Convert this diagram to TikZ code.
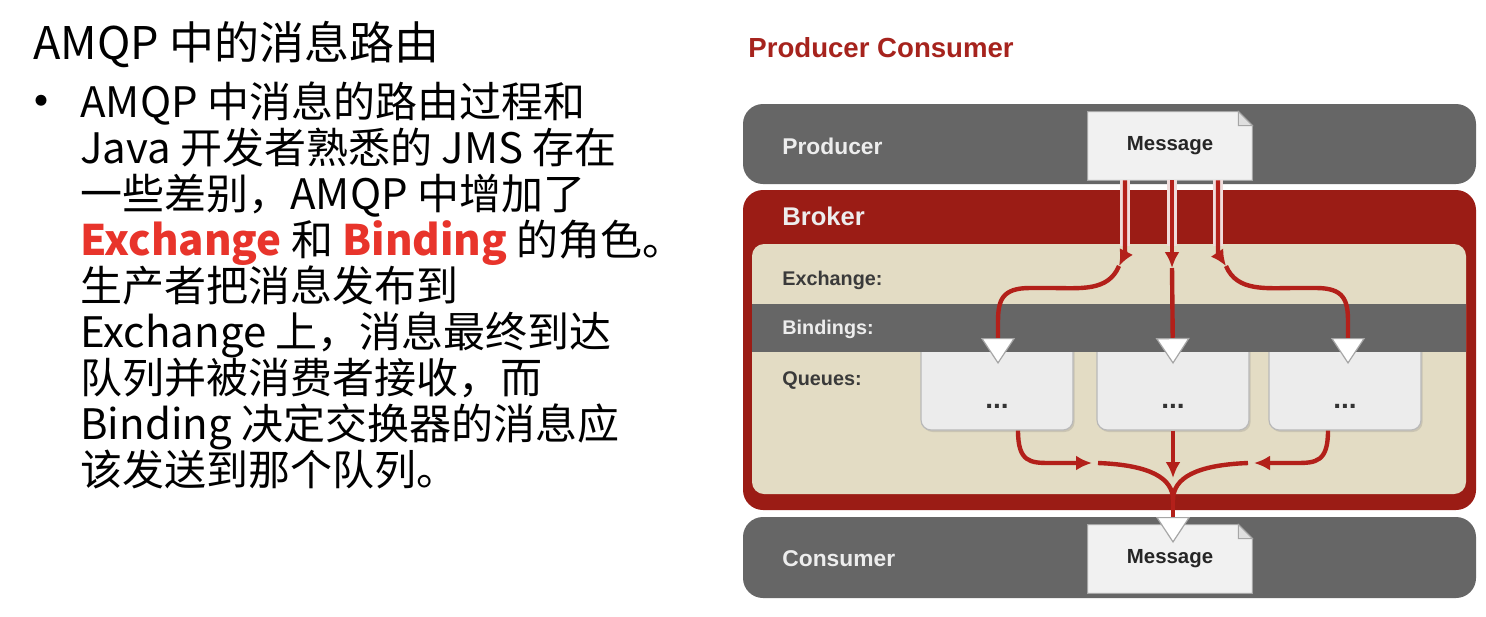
\documentclass[tikz,border=0pt]{standalone}
\usepackage{fontspec}
\setmainfont{Liberation Sans}
\newfontfamily\cjk{Noto Sans CJK SC}
\newfontfamily\diag{Liberation Sans}
\usetikzlibrary{positioning, calc, arrows.meta, shadows}

\definecolor{bandgray}{HTML}{666666}
\definecolor{brokerred}{HTML}{9B1C15}
\definecolor{beige}{HTML}{E3DCC4}
\definecolor{flowred}{HTML}{B3201A}
\definecolor{titlered}{HTML}{A6231D}
\definecolor{hotred}{HTML}{E8342B}
\definecolor{paper}{HTML}{F1F1F1}
\definecolor{labelwhite}{HTML}{EDEDED}
\definecolor{labeldark}{HTML}{3A3A3A}

\newcommand{\qdots}{\raisebox{-14pt}[0pt][0pt]{...}}

\begin{document}
\begin{tikzpicture}[
    x=0.5pt, y=-0.5pt,
    headline/.style={anchor=base west, inner sep=0pt, font=\cjk\fontsize{22.5}{24}\selectfont},
    bodyline/.style={anchor=base west, inner sep=0pt, font=\cjk\fontsize{21}{23}\selectfont},
    lightlabel/.style={anchor=base west, inner sep=0pt, text=labelwhite, font=\diag\bfseries\fontsize{11.4}{13}\selectfont},
    darklabel/.style={anchor=base west, inner sep=0pt, text=labeldark, font=\diag\bfseries\fontsize{9.9}{11}\selectfont},
    msgbox/.style={fill=paper, minimum width=82pt, minimum height=34pt, inner sep=0pt, text=black!85, font=\diag\bfseries\fontsize{10.2}{12}\selectfont},
    queue/.style={rounded corners=5pt, fill=gray!15, draw=gray!55, line width=0.6pt, minimum width=76pt, minimum height=50pt,
        drop shadow={opacity=0.25, shadow xshift=0.8pt, shadow yshift=-1pt}, text=gray!40!black, font=\diag\bfseries\fontsize{14}{15}\selectfont},
    flow/.style={draw=flowred, line width=2.2pt},
    flowarrow/.style={flow, -{Latex[length=8pt, width=7.5pt]}},
    casing/.style={draw=white!85!brokerred, line width=4.6pt},
    bindtip/.style={-{Triangle[length=13pt, width=17pt, color=gray!70, fill=white, line width=0.6pt]}}
]
    \fill[white] (0,0) rectangle (1486,616);
    \useasboundingbox (0,0) rectangle (1486,616);

    % Text on the left
    \node[headline] (head) at (33,59) {AMQP 中的消息路由};
    \node[bodyline, anchor=center, font=\cjk\fontsize{26}{28}\selectfont] (bullet) at (41,108) {•};
    \foreach \ln [count=\k from 0] in {
        {AMQP 中消息的路由过程和},
        {Java 开发者熟悉的 JMS 存在},
        {一些差别，AMQP 中增加了},
        {{\color{hotred}\bfseries Exchange} 和 {\color{hotred}\bfseries Binding} 的角色。},
        {生产者把消息发布到},
        {Exchange 上，消息最终到达},
        {队列并被消费者接收，而},
        {Binding 决定交换器的消息应},
        {该发送到那个队列。}} {
        \node[bodyline] (line\k) at (80,{117+46*\k}) {\ln};
    }

    % Diagram title
    \node[anchor=base west, inner sep=0pt, text=titlered, font=\diag\bfseries\fontsize{13.8}{15}\selectfont] (title) at (748,57) {Producer Consumer};

    % Bands
    \fill[bandgray, rounded corners=10pt] (743,104) rectangle (1476,184);
    \fill[brokerred, rounded corners=10pt] (743,190) rectangle (1476,510);
    \fill[beige, rounded corners=6pt] (752,244) rectangle (1466,494);
    \fill[bandgray, rounded corners=10pt] (743,517) rectangle (1476,598);

    % Queues
    \node[queue] (q1) at (997,380) {\qdots};
    \node[queue] (q2) at (1173,380) {\qdots};
    \node[queue] (q3) at (1345,380) {\qdots};

    \fill[bandgray] (752,304) rectangle (1466,352);

    % Labels
    \node[lightlabel] (producer) at (782,154) {Producer};
    \node[lightlabel, font=\diag\bfseries\fontsize{12.8}{14}\selectfont] (broker) at (782,225) {Broker};
    \node[darklabel] (exchange) at (782,285) {Exchange:};
    \node[darklabel, text=labelwhite] (bindings) at (782,334) {Bindings:};
    \node[darklabel] (queues) at (782,385) {Queues:};
    \node[lightlabel] (consumer) at (782,566) {Consumer};

    % Messages
    \foreach \m/\y in {msgP/146, msgC/559} {
        \node[msgbox] (\m) at (1170,\y) {Message};
        \fill[bandgray] ([xshift=-7pt]\m.north east) -- (\m.north east) -- ([yshift=-7pt]\m.north east) -- cycle;
        \draw[gray!70, line width=0.5pt] (\m.south west) -- (\m.north west) -- ([xshift=-7pt]\m.north east)
            -- ([yshift=-7pt]\m.north east) -- (\m.south east) -- cycle;
        \filldraw[fill=gray!25, draw=gray!70, line width=0.5pt] ([xshift=-7pt]\m.north east) -- ([xshift=-7pt, yshift=-7pt]\m.north east)
            -- ([yshift=-7pt]\m.north east) -- cycle;
    }

    % Exchange and binding points
    \coordinate (ex1) at (1119,266);
    \coordinate (ex2) at (1172,268);
    \coordinate (ex3) at (1226,266);
    \coordinate (b1) at (998,364);
    \coordinate (b2) at (1173,364);
    \coordinate (b3) at (1348,364);

    % Producer to exchange
    \draw[casing] ([xshift=-22.5pt]msgP.south) -- ++(0,66);
    \draw[casing] ([xshift=1pt]msgP.south) -- ++(0,66);
    \draw[casing] ([xshift=24pt]msgP.south) -- ++(0,66);
    \draw[flowarrow] ([xshift=-22.5pt]msgP.south) -- (1125,242) .. controls (1125,254) .. (ex1);
    \draw[flowarrow] ([xshift=1pt]msgP.south) -- (ex2);
    \draw[flowarrow] ([xshift=24pt]msgP.south) -- (1218,242) .. controls (1218,254) .. (ex3);

    % Exchange to queues
    \draw[flow, bindtip] (ex1) .. controls (1108,292) and (1080,288) .. (1050,288) -- (1030,288)
        .. controls (1002,288) and (998,300) .. (998,322) -- (b1);
    \draw[flow, bindtip] (ex2) -- (b2);
    \draw[flow, bindtip] (ex3) .. controls (1237,292) and (1266,288) .. (1296,288) -- (1316,288)
        .. controls (1344,288) and (1348,300) .. (1348,322) -- (b3);

    % Queues to consumer
    \coordinate (jl) at (1092,463);
    \coordinate (jm) at (1173,478);
    \coordinate (jr) at (1254,463);
    \coordinate (mg) at (1173,500);
    \coordinate (bc) at (1173,543);

    \draw[flowarrow] ([xshift=10.5pt]q1.south) .. controls (1018,462) and (1030,463) .. (1050,463) -- (jl);
    \draw[flowarrow] (q2.south) -- (jm);
    \draw[flowarrow] ([xshift=-8.5pt]q3.south) .. controls (1328,462) and (1316,463) .. (1296,463) -- (jr);
    \draw[flow] ([xshift=3pt]jl) .. controls (1150,465) and (1173,478) .. (mg);
    \draw[flow] ([xshift=-3pt]jr) .. controls (1196,465) and (1173,478) .. (mg);
    \draw[flow, bindtip] (mg) -- (bc);

\end{tikzpicture}
\end{document}
